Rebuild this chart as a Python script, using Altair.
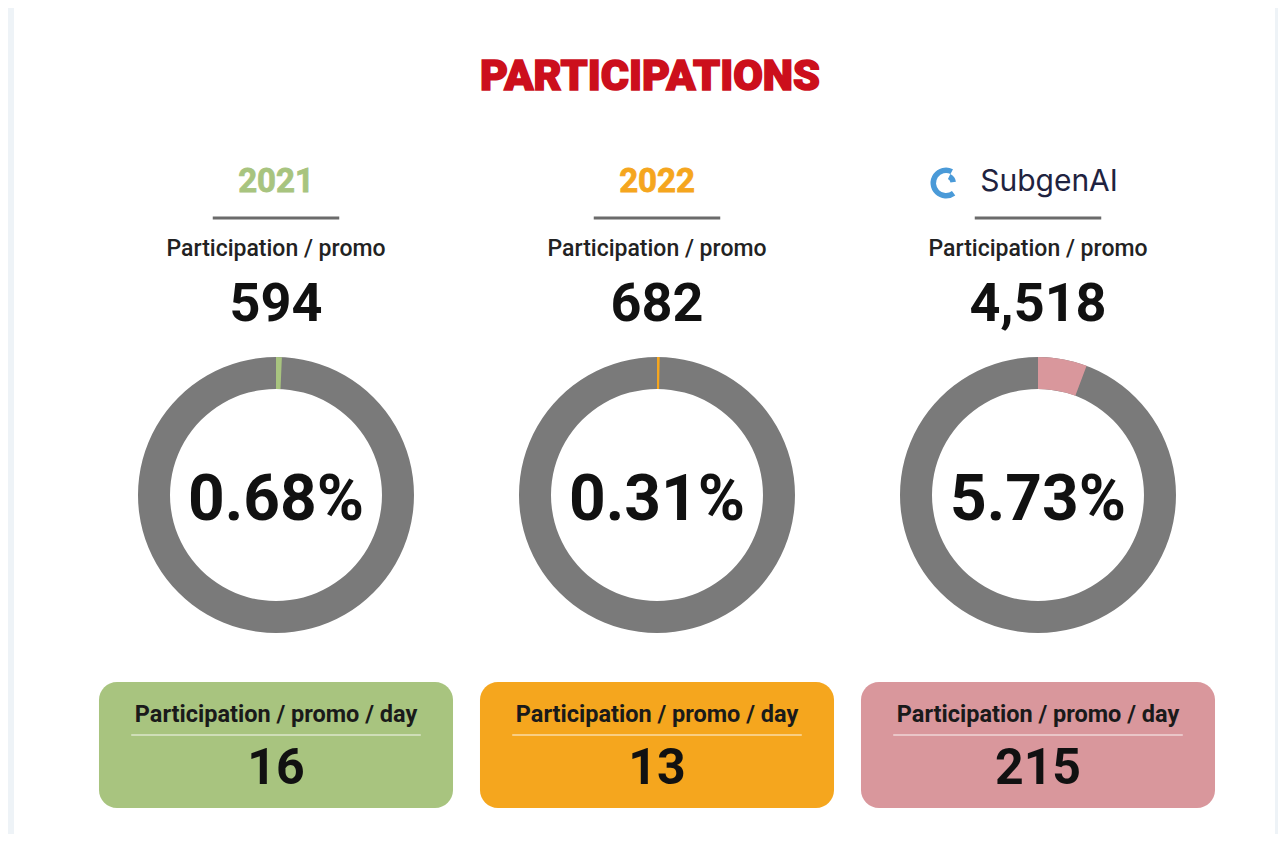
import altair as alt
import pandas as pd

# ---------------- data ----------------
labels = ["2021", "2022", "SubgenAI"]
per_promo = [594, 682, 4518]
share_pct = [0.68, 0.31, 5.73]
per_day = [16, 13, 215]
header_text = "Participation / promo"
box_text = "Participation / promo / day"
title_text = "PARTICIPATIONS"

# ---------------- styles ----------------
palette_keys = labels + ["rest"]
palette_cols = ["#a8c47f", "#f5a61e", "#d9979c", "#7a7a7a"]
FONT = "Roboto"

W, H = 1270, 826
C0, STEP = 268, 381  # chart-pixel centre of first column, column spacing
xscale = alt.Scale(domain=[-C0 / STEP, (W - C0) / STEP], nice=False, zero=False)
cscale = alt.Scale(domain=palette_keys, range=palette_cols)

df = pd.DataFrame({
    "col": list(range(len(labels))),
    "label": labels,
    "pct": share_pct,
    "promo_txt": [f"{v:,}" for v in per_promo],
    "pct_txt": [f"{v:.2f}%" for v in share_pct],
    "day_txt": [str(v) for v in per_day],
    "header": [header_text] * len(labels),
    "boxlab": [box_text] * len(labels),
})

X = alt.X("col:Q", scale=xscale, axis=None)
base = alt.Chart(df)

# background card
card = alt.Chart(pd.DataFrame({"k": [0]})).mark_rect(color="white").encode(
    x=alt.value(6), x2=alt.value(1267), y=alt.value(-2), y2=alt.value(H)
)

title = alt.Chart(pd.DataFrame({"t": [title_text]})).mark_text(
    font=FONT, fontSize=43, fontWeight=900, color="#cc0f1c", baseline="middle",
    stroke="#cc0f1c", strokeWidth=1.6
).encode(x=alt.value(642), y=alt.value(69), text="t:N")

years = base.transform_filter("datum.col < 2").mark_text(
    font=FONT, fontSize=33, fontWeight="bold", baseline="middle", strokeWidth=0.8
).encode(x=X, y=alt.value(174), text="label:N",
         color=alt.Color("label:N", scale=cscale, legend=None),
         stroke=alt.Stroke("label:N", scale=cscale, legend=None))

brand = base.transform_filter("datum.col == 2").mark_text(
    font="Inter", fontSize=30, fontWeight=400, baseline="middle", color="#1f2340", dx=11
).encode(x=X, y=alt.value(174), text="label:N")

brand_one = base.transform_filter("datum.col == 2").transform_calculate(
    ix="datum.col - 92/381"
)
icon_outer = brand_one.mark_arc(
    radius=15.5, radius2=10, theta=2.5, theta2=6.75, color="#4a9ad8"
).encode(x=alt.X("ix:Q", scale=xscale, axis=None), y=alt.value(175))
icon_inner = brand_one.mark_arc(
    radius=10, radius2=4.5, theta=0.45, theta2=1.45, color="#4a9ad8"
).encode(x=alt.X("ix:Q", scale=xscale, axis=None), y=alt.value(175))

underline = base.transform_calculate(
    a="datum.col - 0.166", b="datum.col + 0.166"
).mark_rule(color="#6b6b6b", strokeWidth=3).encode(
    x=alt.X("a:Q", scale=xscale, axis=None), x2="b:Q", y=alt.value(210)
)

header = base.mark_text(font=FONT, fontSize=23, fontWeight=500, color="#222222",
                        baseline="middle").encode(x=X, y=alt.value(241), text="header:N")

promo = base.mark_text(font=FONT, fontSize=54, fontWeight="bold", color="#111111",
                       baseline="middle").encode(x=X, y=alt.value(297), text="promo_txt:N")

# donuts: one single-item layer per ring and per share slice
donut_layers = []
for i in range(len(labels)):
    one = base.transform_filter(f"datum.col == {i}")
    donut_layers.append(
        one.mark_arc(radius=138, radius2=106, theta=0, theta2=6.2831, color="#7a7a7a")
        .encode(x=X, y=alt.value(487))
    )
    donut_layers.append(
        one.transform_calculate(a0="0", a1="datum.pct / 100 * 2 * PI")
        .mark_arc(radius=138, radius2=106)
        .encode(
            x=X, y=alt.value(487),
            theta=alt.Theta("a0:Q", scale=None),
            theta2=alt.Theta2("a1:Q"),
            color=alt.Color("label:N", scale=cscale, legend=None),
        )
    )

pct = base.mark_text(font=FONT, fontSize=64, fontWeight="bold", color="#111111",
                     baseline="middle").encode(x=X, y=alt.value(493), text="pct_txt:N")

box = base.transform_calculate(
    a="datum.col - 0.4646", b="datum.col + 0.4646"
).mark_rect(cornerRadius=18).encode(
    x=alt.X("a:Q", scale=xscale, axis=None), x2="b:Q",
    y=alt.value(674), y2=alt.value(800),
    color=alt.Color("label:N", scale=cscale, legend=None),
)

boxlab = base.mark_text(font=FONT, fontSize=23.5, fontWeight="bold", color="#1a1a1a",
                        baseline="middle").encode(x=X, y=alt.value(707), text="boxlab:N")

sep = base.transform_calculate(
    a="datum.col - 0.38", b="datum.col + 0.38"
).mark_rule(color="white", strokeWidth=2, opacity=0.45).encode(
    x=alt.X("a:Q", scale=xscale, axis=None), x2="b:Q", y=alt.value(727)
)

daynum = base.mark_text(font=FONT, fontSize=50, fontWeight="bold", color="#111111",
                        baseline="middle").encode(x=X, y=alt.value(761), text="day_txt:N")

chart = alt.layer(
    card, title, years, brand, icon_outer, icon_inner, underline, header, promo,
    *donut_layers, pct, box, boxlab, sep, daynum
).properties(
    width=W, height=H, background="#eef3f7", padding=0,
    autosize=alt.AutoSizeParams(type="none"),
).configure_view(stroke=None)

chart.save("out.html", embed_options={"renderer": "svg", "actions": False})
